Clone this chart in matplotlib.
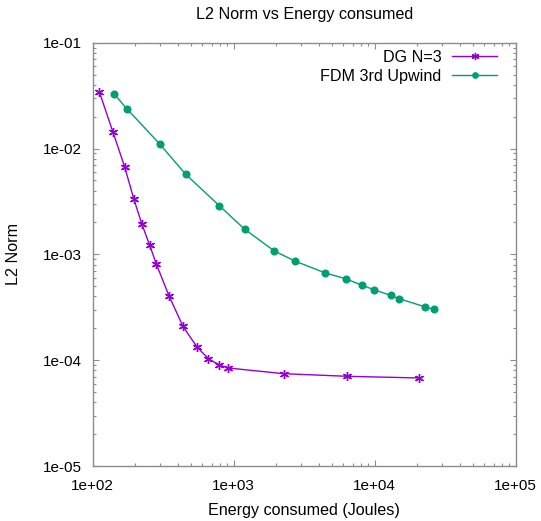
import matplotlib
matplotlib.use("Agg")
import matplotlib.pyplot as plt
from matplotlib.ticker import LogLocator, FuncFormatter, NullFormatter

plt.rcParams['font.family'] = ['Liberation Sans', 'DejaVu Sans']

# DG N=3 results
dg_energy = [111.4, 139.3, 168.6, 195.4, 222.6, 253.6, 282.6, 347.6, 436.5,
             546.8, 660.7, 790.7, 911.0, 2274.0, 6393.0, 20620.0]
dg_l2 = [0.0343, 0.01426, 0.0067, 0.00336, 0.00195, 0.00122, 0.000811,
         0.000405, 0.000209, 0.0001342, 0.0001033, 9.01e-5, 8.44e-5,
         7.45e-5, 7.04e-5, 6.79e-5]

# FDM 3rd-order upwind results
fdm_energy = [141.6, 176.0, 298.6, 456.6, 790.5, 1197.0, 1941.0, 2735.0,
              4466.0, 6208.0, 8100.0, 9920.0, 13000.0, 14940.0, 22900.0, 26240.0]
fdm_l2 = [0.0328, 0.0235, 0.01104, 0.00571, 0.002884, 0.001725, 0.001076,
          0.000861, 0.000667, 0.000589, 0.000511, 0.000463, 0.000409,
          0.000381, 0.000318, 0.000303]

series_labels = ["DG N=3", "FDM 3rd Upwind"]
title = "L2 Norm vs Energy consumed"
xlabel = "Energy consumed (Joules)"
ylabel = "L2 Norm"

W, H = 541, 521
fig = plt.figure(figsize=(W / 100, H / 100), dpi=100)
ax = fig.add_axes([92.7 / W, 1 - 466 / H, (515.7 - 92.7) / W, (466 - 42.7) / H])

purple = "#9400d3"
green = "#009e73"
text_size = 11.6
tick_size = 11.0

ax.plot(dg_energy, dg_l2, color=purple, lw=1.0, marker=(6, 2, 0), ms=6.5,
        mew=1.0, label=series_labels[0])
ax.plot(fdm_energy, fdm_l2, color=green, lw=1.0, marker='o', ms=4.8,
        label=series_labels[1])

ax.set_xscale('log')
ax.set_yscale('log')
ax.set_xlim(1e2, 1e5)
ax.set_ylim(1e-5, 1e-1)

fmt = FuncFormatter(lambda v, p: f"{v:.0e}")
for axis in (ax.xaxis, ax.yaxis):
    axis.set_major_locator(LogLocator(base=10, numticks=10))
    axis.set_minor_locator(LogLocator(base=10, subs=range(2, 10), numticks=20))
    axis.set_major_formatter(fmt)
    axis.set_minor_formatter(NullFormatter())

frame_color = "#8c8c8c"
for s in ax.spines.values():
    s.set_color(frame_color)
    s.set_linewidth(1.0)
ax.tick_params(which='both', direction='in', top=True, right=True,
               color=frame_color, labelsize=tick_size, labelcolor='black')
ax.tick_params(which='major', length=4.5, width=0.8)
ax.tick_params(which='minor', length=2.5, width=0.8)
ax.tick_params(axis='x', which='major', pad=9)
ax.tick_params(axis='y', which='major', pad=8)

fig.text((92.7 + 515.7) / 2 / W, 1 - 14 / H, title, fontsize=text_size,
         ha='center', va='center')
fig.text((92.7 + 515.7) / 2 / W, 1 - 510 / H, xlabel, fontsize=text_size,
         ha='center', va='center')
fig.text(14 / W, 1 - 254.3 / H, ylabel, fontsize=text_size,
         ha='center', va='center', rotation=90)

leg = ax.legend(loc='upper right', markerfirst=False, frameon=False,
                fontsize=text_size, handlelength=2.83, handletextpad=0.62,
                labelspacing=0.22, borderaxespad=0, borderpad=0,
                markerscale=0.8,
                bbox_to_anchor=(497.3 / W, 1 - 50 / H),
                bbox_transform=fig.transFigure)
for t in leg.get_texts():
    t.set_ha('right')
leg._legend_box.align = "right"

fig.savefig("out.png", dpi=100)
